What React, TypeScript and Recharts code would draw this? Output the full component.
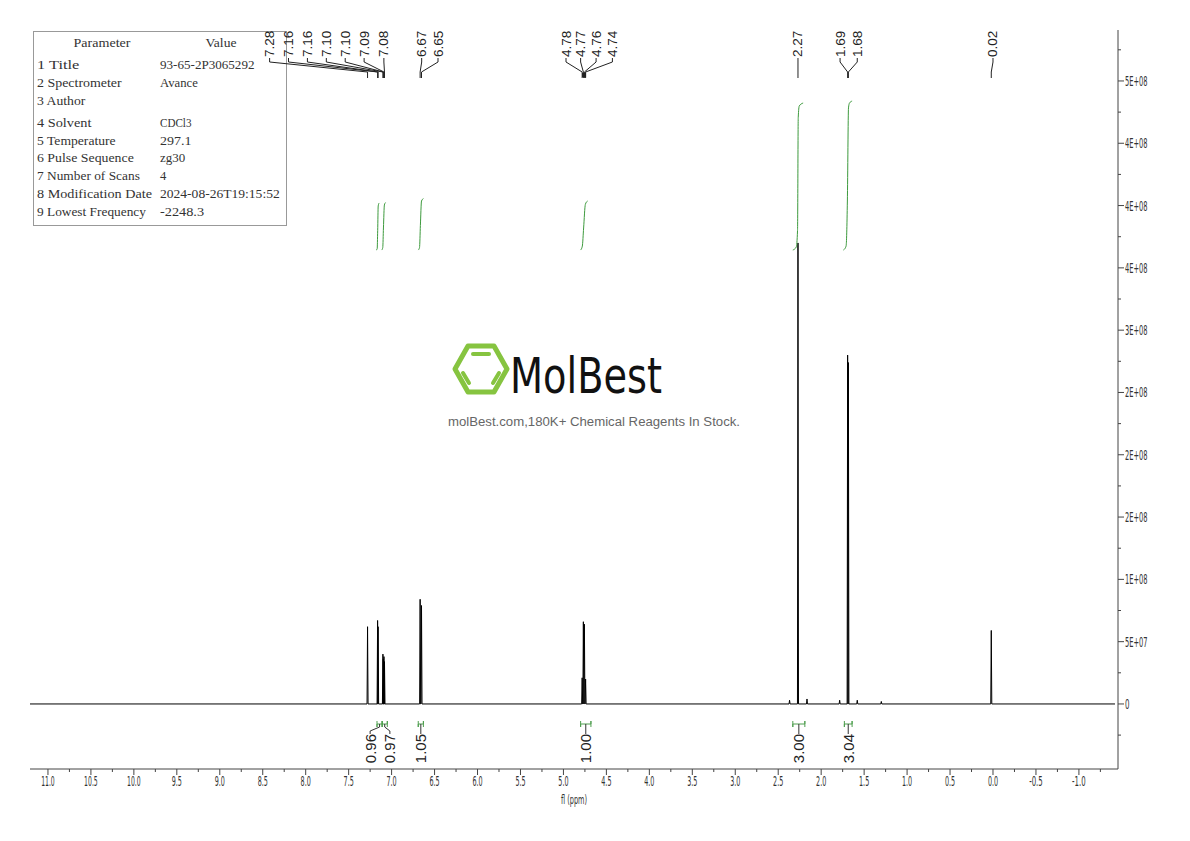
import React from "react";
import { LineChart, Line, XAxis, YAxis, ReferenceDot } from "recharts";

// --- spectrum peaks (ppm / intensity) ---
const peakPpm = [7.28, 7.163, 7.157, 7.101, 7.096, 7.089, 7.083, 6.668, 6.652, 4.782, 4.768, 4.756, 4.742, 2.368, 2.27, 2.165, 1.785, 1.692, 1.683, 1.58, 1.3, 0.02];
const peakHeight = [6.2e7, 6.7e7, 6.2e7, 4.0e7, 3.6e7, 3.8e7, 3.4e7, 8.4e7, 7.9e7, 2.1e7, 6.6e7, 6.4e7, 2.0e7, 3e6, 3.7e8, 4e6, 3e6, 2.8e8, 2.74e8, 3e6, 2e6, 5.9e7];
const baselineEnds = [11.209, -1.42];

// --- peak picking labels ---
const peakLabels = ["7.28", "7.16", "7.16", "7.10", "7.10", "7.09", "7.08", "6.67", "6.65", "4.78", "4.77", "4.76", "4.74", "2.27", "1.69", "1.68", "0.02"];
const peakLabelTarget = [7.28, 7.163, 7.157, 7.101, 7.096, 7.089, 7.083, 6.668, 6.652, 4.782, 4.768, 4.756, 4.742, 2.27, 1.692, 1.683, 0.02];
const peakLabelSlot = [8.42, 8.2, 7.98, 7.76, 7.54, 7.32, 7.09, 6.65, 6.46, 4.97, 4.8, 4.62, 4.43, 2.27, 1.78, 1.58, 0.0];

// --- integrals ---
const integralValues = ["0.96", "0.97", "1.05", "1.00", "3.00", "3.04"];
const integralFrom = [7.17, 7.11, 6.69, 4.8, 2.33, 1.73];
const integralTo = [7.11, 7.05, 6.63, 4.68, 2.19, 1.64];
const integralLabelSlot = [7.25, 7.02, 6.66, 4.74, 2.26, 1.685];
const integralCurves = [
  [[7.18, 0], [7.168, 0.02], [7.162, 0.4], [7.156, 0.9], [7.145, 0.96]],
  [[7.115, 0], [7.103, 0.05], [7.095, 0.45], [7.084, 0.92], [7.07, 0.97]],
  [[6.69, 0], [6.675, 0.05], [6.665, 0.5], [6.652, 1.0], [6.63, 1.05]],
  [[4.8, 0], [4.78, 0.08], [4.765, 0.45], [4.745, 0.93], [4.72, 1.0]],
  [[2.33, 0], [2.29, 0.06], [2.275, 0.4], [2.267, 2.7], [2.255, 2.94], [2.21, 3.0]],
  [[1.74, 0], [1.71, 0.08], [1.695, 1.0], [1.682, 2.9], [1.67, 3.0], [1.64, 3.04]],
];

// --- axes ---
const xMajor = [11, 10.5, 10, 9.5, 9, 8.5, 8, 7.5, 7, 6.5, 6, 5.5, 5, 4.5, 4, 3.5, 3, 2.5, 2, 1.5, 1, 0.5, 0, -0.5, -1];
const xMinor = [10.75, 10.25, 9.75, 9.25, 8.75, 8.25, 7.75, 7.25, 6.75, 6.25, 5.75, 5.25, 4.75, 4.25, 3.75, 3.25, 2.75, 2.25, 1.75, 1.25, 0.75, 0.25, -0.25, -0.75, -1.25];
const yMajor = [0, 5e7, 1e8, 1.5e8, 2e8, 2.5e8, 3e8, 3.5e8, 4e8, 4.5e8, 5e8];
const yMajorLabels = ["0", "5E+07", "1E+08", "2E+08", "2E+08", "2E+08", "3E+08", "4E+08", "4E+08", "4E+08", "5E+08"];
const yMinor = [-2.5e7, 2.5e7, 7.5e7, 1.25e8, 1.75e8, 2.25e8, 2.75e8, 3.25e8, 3.75e8, 4.25e8, 4.75e8, 5.25e8];

// --- parameter table ---
const paramRows = [
  ["1 Title", "93-65-2P3065292"],
  ["2 Spectrometer", "Avance"],
  ["3 Author", ""],
  ["4 Solvent", "CDCl3"],
  ["5 Temperature", "297.1"],
  ["6 Pulse Sequence", "zg30"],
  ["7 Number of Scans", "4"],
  ["8 Modification Date", "2024-08-26T19:15:52"],
  ["9 Lowest Frequency", "-2248.3"],
];
const paramRowY = [69, 87, 105, 127, 145, 162, 180, 198, 216];

const AXIS = "#444";
const GREEN = "#3d9a3d";
const NARROW = "'Liberation Sans Narrow', 'DejaVu Sans Condensed', sans-serif";
const SANS = "'Liberation Sans', Arial, sans-serif";
const SERIF = "'Liberation Serif', serif";

const HALF_W = 0.006;
const spectrum: { x: number; y: number }[] = [{ x: baselineEnds[0], y: 0 }];
peakPpm.forEach((p, i) => {
  spectrum.push({ x: p + HALF_W, y: 0 }, { x: p, y: peakHeight[i] }, { x: p - HALF_W, y: 0 });
});
spectrum.push({ x: baselineEnds[1], y: 0 });

const isMajorX = (v: number) => Math.abs(v * 2 - Math.round(v * 2)) < 1e-6;

const XTick = ({ x, y, payload }: any) => {
  const v = payload.value;
  const major = isMajorX(v);
  const s = v.toFixed(1);
  return (
    <g>
      <line x1={x} x2={x} y1={y} y2={y + (major ? 6 : 3)} stroke={AXIS} />
      {major && (
        <text x={x} y={y + 17} textAnchor="middle" fontSize={14} fontFamily={NARROW} fill="#333" textLength={s.length * 3.4} lengthAdjust="spacingAndGlyphs">
          {s}
        </text>
      )}
    </g>
  );
};

const YTick = ({ x, y, payload }: any) => {
  const i = yMajor.indexOf(payload.value);
  const major = i >= 0;
  return (
    <g>
      <line x1={x} x2={x + (major ? 6 : 3)} y1={y} y2={y} stroke={AXIS} />
      {major && (
        <text x={x + 7} y={y + 5} fontSize={14} fontFamily={NARROW} fill="#333" textLength={yMajorLabels[i].length * 4.5} lengthAdjust="spacingAndGlyphs">
          {yMajorLabels[i]}
        </text>
      )}
    </g>
  );
};

const rotatedText = (label: string, anchor: string, size: number) => (p: any) => (
  <text
    x={p.cx}
    y={p.cy}
    transform={`rotate(-90 ${p.cx} ${p.cy})`}
    textAnchor={anchor}
    dominantBaseline="central"
    fontSize={size}
    fontFamily={SANS}
    fill="#222"
  >
    {label}
  </text>
);

export default function App() {
  const lineBase = {
    dot: false,
    activeDot: false,
    isAnimationActive: false,
    legendType: "none" as const,
    type: "linear" as const,
  };

  return (
    <div style={{ position: "absolute", left: 0, top: 0, width: 1190, height: 841, background: "#fff" }}>
      <svg width={1190} height={841} style={{ position: "absolute", left: 0, top: 0 }}>
        {/* parameter table */}
        <rect x={33.5} y={31.5} width={253} height={194} fill="#fff" stroke="#999" />
        <text x={102} y={47} textAnchor="middle" fontSize={13} fontFamily={SERIF} fill="#333" textLength={57} lengthAdjust="spacingAndGlyphs">Parameter</text>
        <text x={221} y={47} textAnchor="middle" fontSize={13} fontFamily={SERIF} fill="#333" textLength={31} lengthAdjust="spacingAndGlyphs">Value</text>
        {paramRows.map((r, i) => (
          <g key={i}>
            <text x={37} y={paramRowY[i]} fontSize={13} fontFamily={SERIF} fill="#333" textLength={r[0].length * 6.05} lengthAdjust="spacingAndGlyphs">{r[0]}</text>
            {r[1] && (
              <text x={160} y={paramRowY[i]} fontSize={13} fontFamily={SERIF} fill="#333" textLength={r[1].length * 6.3} lengthAdjust="spacingAndGlyphs">{r[1]}</text>
            )}
          </g>
        ))}
        {/* watermark */}
        <polygon points="455,369 468,346 494,346 507,369 494,392 468,392" fill="none" stroke="#86c440" strokeWidth={5} strokeLinejoin="round" />
        <line x1={473} y1={354} x2={489} y2={354} stroke="#86c440" strokeWidth={4} strokeLinecap="round" />
        <line x1={463} y1={373} x2={469} y2={383} stroke="#86c440" strokeWidth={4} strokeLinecap="round" />
        <line x1={499} y1={373} x2={493} y2={383} stroke="#86c440" strokeWidth={4} strokeLinecap="round" />
        <text x={510} y={393} fontSize={50} fontFamily={NARROW} fill="#111" textLength={152} lengthAdjust="spacingAndGlyphs">MolBest</text>
        <text x={448} y={426} fontSize={12.5} fontFamily={SANS} fill="#666" textLength={292} lengthAdjust="spacingAndGlyphs">molBest.com,180K+ Chemical Reagents In Stock.</text>
      </svg>

      <LineChart width={1190} height={841} margin={{ top: 30, right: 12, bottom: 32, left: 30 }}>
        <XAxis
          dataKey="x"
          type="number"
          domain={[-1.455, 11.209]}
          reversed
          allowDataOverflow
          ticks={[...xMajor, ...xMinor].sort((a, b) => b - a)}
          interval={0}
          tickSize={0}
          tickMargin={0}
          tickLine={false}
          tick={<XTick />}
          axisLine={{ stroke: AXIS }}
          height={40}
          label={{
            content: (p: any) => (
              <text x={p.viewBox.x + p.viewBox.width / 2} y={p.viewBox.y + 35} textAnchor="middle" fontSize={12} fontFamily={NARROW} fill="#333" textLength={26} lengthAdjust="spacingAndGlyphs">
                fl (ppm)
              </text>
            ),
          }}
        />
        <YAxis
          yAxisId="main"
          orientation="right"
          type="number"
          domain={[-5.22e7, 5.409e8]}
          allowDataOverflow
          ticks={[...yMajor, ...yMinor].sort((a, b) => a - b)}
          interval={0}
          tickSize={0}
          tickMargin={0}
          tickLine={false}
          tick={<YTick />}
          axisLine={{ stroke: AXIS }}
          width={60}
        />
        <YAxis yAxisId="int" hide type="number" domain={[-10.59, 4.49]} allowDataOverflow />
        <YAxis yAxisId="ann" hide type="number" domain={[30, 769]} reversed allowDataOverflow />

        <Line {...lineBase} yAxisId="main" data={spectrum} dataKey="y" stroke="#000" strokeWidth={1} />

        {integralCurves.map((c, i) => (
          <Line
            key={`int-${i}`}
            {...lineBase}
            type="monotone"
            yAxisId="int"
            data={c.map(([x, v]) => ({ x, v }))}
            dataKey="v"
            stroke={GREEN}
            strokeWidth={1}
          />
        ))}

        {/* integral brackets below the spectrum */}
        {integralValues.map((_, i) => {
          const a = integralFrom[i];
          const b = integralTo[i];
          return (
            <Line
              key={`br-${i}`}
              {...lineBase}
              yAxisId="ann"
              data={[
                { x: a, a: 721 },
                { x: a, a: 727 },
                { x: a, a: 724 },
                { x: b, a: 724 },
                { x: b, a: 721 },
                { x: b, a: 727 },
              ]}
              dataKey="a"
              stroke="#4e9e4e"
              strokeWidth={1}
            />
          );
        })}
        {integralValues.map((_, i) => {
          const mid = (integralFrom[i] + integralTo[i]) / 2;
          const s = integralLabelSlot[i];
          return (
            <Line
              key={`bl-${i}`}
              {...lineBase}
              yAxisId="ann"
              data={[
                { x: mid, a: 724 },
                { x: mid, a: 727 },
                { x: s, a: 731 },
                { x: s, a: 734 },
              ]}
              dataKey="a"
              stroke="#333"
              strokeWidth={1}
            />
          );
        })}
        {integralValues.map((v, i) => (
          <ReferenceDot key={`il-${i}`} yAxisId="ann" x={integralLabelSlot[i]} y={734} r={1} ifOverflow="visible" shape={rotatedText(v, "end", 15)} />
        ))}

        {/* peak label connectors */}
        {peakLabels.map((_, i) => (
          <Line
            key={`pc-${i}`}
            {...lineBase}
            yAxisId="ann"
            data={[
              { x: peakLabelSlot[i], a: 58 },
              { x: peakLabelSlot[i], a: 62 },
              { x: peakLabelTarget[i], a: 72 },
              { x: peakLabelTarget[i], a: 78 },
            ]}
            dataKey="a"
            stroke="#222"
            strokeWidth={1}
          />
        ))}
        {peakLabels.map((l, i) => (
          <ReferenceDot key={`pl-${i}`} yAxisId="ann" x={peakLabelSlot[i]} y={57} r={1} ifOverflow="visible" shape={rotatedText(l, "start", 13.5)} />
        ))}
        <ReferenceDot
          yAxisId="ann"
          x={4.76}
          y={75}
          r={1}
          ifOverflow="visible"
          shape={(p: any) => <rect x={p.cx - 2} y={p.cy - 2} width={4} height={4} fill="#222" />}
        />
      </LineChart>
    </div>
  );
}
